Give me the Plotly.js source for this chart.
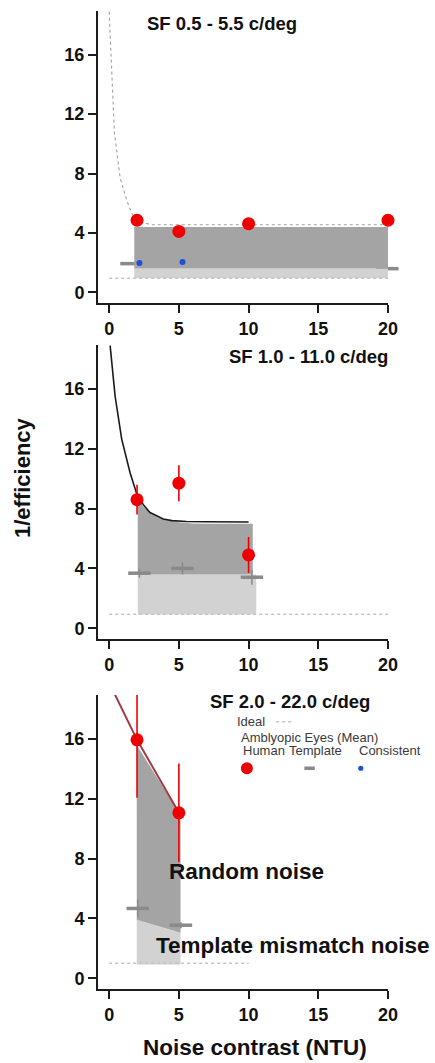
<!DOCTYPE html>
<html>
<head>
<meta charset="utf-8">
<script src="https://cdn.plot.ly/plotly-3.0.1.min.js"></script>
<style>html,body{margin:0;padding:0;background:#fff;}#chart{width:435px;height:1063px;}</style>
</head>
<body>
<div id="chart"></div>
<script>
// ---------- tick labels ----------
const xTickVals = [0, 5, 10, 15, 20];
const yTickVals = [0, 4, 8, 12, 16];
const panelTitles = ["SF 0.5 - 5.5 c/deg", "SF 1.0 - 11.0 c/deg", "SF 2.0 - 22.0 c/deg"];

// ---------- Panel 1 : SF 0.5 - 5.5 c/deg ----------
const p1IdealX = [0, 20];
const p1IdealY = [0.95, 0.95];
const p1BandX = [1.8, 20.1];
const p1BandIdeal = [0.95, 0.95];
const p1BandTemplate = [1.6, 1.6];
const p1BandMean = [4.4, 4.4];
const p1FitX = [0.0, 0.07, 0.19, 0.38, 0.79, 1.26, 1.62, 2.2, 3.0, 4.0, 20.1];
const p1FitY = [18.9, 17.4, 15.1, 10.7, 7.7, 6.2, 5.3, 4.76, 4.55, 4.55, 4.55];
const p1HumanX = [2, 5, 10, 20];
const p1HumanY = [4.85, 4.1, 4.62, 4.85];
const p1TemplateX = [1.6, 4.7, 9.95, 19.95];
const p1TemplateY = [1.93, 1.77, 2.78, 1.59];
const p1ConsistentX = [2.17, 5.26];
const p1ConsistentY = [1.97, 2.04];

// ---------- Panel 2 : SF 1.0 - 11.0 c/deg ----------
const p2IdealX = [0, 20];
const p2IdealY = [0.94, 0.94];
const p2LightX = [2.05, 10.55];
const p2LightLow = [0.92, 0.92];
const p2LightHigh = [3.6, 3.6];
const p2DarkX = [2.05, 2.5, 3.0, 3.5, 4.0, 4.5, 5.0, 6.0, 7.0, 10.3];
const p2DarkLow = [3.6, 3.6, 3.6, 3.6, 3.6, 3.6, 3.6, 3.6, 3.6, 3.6];
const p2DarkHigh = [8.6, 8.1, 7.65, 7.4, 7.25, 7.15, 7.08, 7.0, 6.98, 6.98];
const p2FitX = [0.07, 0.43, 0.9, 1.5, 2.02, 2.5, 2.93, 3.5, 3.88, 4.5, 5.55, 7, 10];
const p2FitY = [18.9, 15.5, 12.65, 10.4, 8.86, 8.2, 7.74, 7.45, 7.3, 7.2, 7.14, 7.12, 7.1];
const p2HumanX = [2, 5, 10];
const p2HumanY = [8.6, 9.7, 4.9];
const p2HumanErr = [1.0, 1.2, 1.2];
const p2TemplateX = [2.17, 5.26, 10.24];
const p2TemplateY = [3.68, 4.0, 3.41];
const p2TemplateErr = [0.3, 0.4, 0.5];

// ---------- Panel 3 : SF 2.0 - 22.0 c/deg ----------
const p3IdealX = [0, 10];
const p3IdealY = [1.0, 1.0];
const p3BandX = [1.98, 5.12];
const p3BandIdeal = [0.92, 0.92];
const p3BandTemplate = [3.92, 3.05];
const p3BandMean = [15.6, 10.9];
const p3FitX = [0.3, 2.0, 5.0];
const p3FitY = [19.2, 15.95, 11.07];
const p3HumanX = [2, 5];
const p3HumanY = [15.95, 11.07];
const p3HumanErr = [3.87, 3.3];
const p3TemplateX = [2.05, 5.15];
const p3TemplateY = [4.67, 3.55];
const p3TemplateErr = [0.6, 0.2];

// ---------- styles ----------
const RED = '#ee0000';
const BLUE = '#1e4fd6';
const TEMPLATE_GREY = '#8a8a8a';
const DARK_FILL = '#a4a4a4';
const LIGHT_FILL = '#d2d2d2';
const IDEAL_COL = '#c4c4c4';
const AXCOL = '#1c1c1c';
const FONT = 'Liberation Sans, Arial, sans-serif';

function ax(i) { return i === 1 ? {x: 'x', y: 'y'} : {x: 'x' + i, y: 'y' + i}; }

function band(xs, low, high, color, i) {
  const a = ax(i);
  return {type: 'scatter', mode: 'lines', x: xs.concat(xs.slice().reverse()),
    y: high.concat(low.slice().reverse()), fill: 'toself', fillcolor: color,
    line: {width: 0}, xaxis: a.x, yaxis: a.y, hoverinfo: 'skip', showlegend: false};
}
function line(xs, ys, color, width, dash, i) {
  const a = ax(i);
  return {type: 'scatter', mode: 'lines', x: xs, y: ys, line: {color: color, width: width, dash: dash},
    xaxis: a.x, yaxis: a.y, hoverinfo: 'skip', showlegend: false};
}
function templ(xs, ys, err, i) {
  const a = ax(i);
  const t = {type: 'scatter', mode: 'markers', x: xs, y: ys,
    marker: {symbol: 'line-ew', size: 16, line: {width: 3.5, color: TEMPLATE_GREY}},
    xaxis: a.x, yaxis: a.y, showlegend: false, cliponaxis: false};
  if (err) t.error_y = {type: 'data', array: err, visible: true, color: TEMPLATE_GREY, thickness: 1.5, width: 0};
  return t;
}
function human(xs, ys, i) {
  const a = ax(i);
  return {type: 'scatter', mode: 'markers', x: xs, y: ys,
    marker: {color: RED, size: 13, line: {width: 0}},
    xaxis: a.x, yaxis: a.y, showlegend: false, cliponaxis: false};
}
function humanErr(xs, ys, err, i) {
  const a = ax(i);
  return {type: 'scatter', mode: 'markers', x: xs, y: ys,
    marker: {color: 'rgba(0,0,0,0)', size: 1},
    error_y: {type: 'data', array: err, visible: true, color: RED, thickness: 1.6, width: 0},
    xaxis: a.x, yaxis: a.y, showlegend: false, cliponaxis: true, hoverinfo: 'skip'};
}
function consistent(xs, ys, i) {
  const a = ax(i);
  return {type: 'scatter', mode: 'markers', x: xs, y: ys,
    marker: {color: BLUE, size: 6}, xaxis: a.x, yaxis: a.y, showlegend: false};
}

const data = [
  // panel 1
  templ(p1TemplateX, p1TemplateY, null, 1),
  band(p1BandX, p1BandIdeal, p1BandTemplate, LIGHT_FILL, 1),
  band(p1BandX, p1BandTemplate, p1BandMean, DARK_FILL, 1),
  line(p1IdealX, p1IdealY, IDEAL_COL, 1.5, 'dot', 1),
  line(p1FitX, p1FitY, '#a0a0a0', 1.1, 'dot', 1),
  consistent(p1ConsistentX, p1ConsistentY, 1),
  human(p1HumanX, p1HumanY, 1),
  // panel 2
  band(p2LightX, p2LightLow, p2LightHigh, LIGHT_FILL, 2),
  band(p2DarkX, p2DarkLow, p2DarkHigh, DARK_FILL, 2),
  line(p2IdealX, p2IdealY, IDEAL_COL, 1.5, 'dot', 2),
  line(p2FitX, p2FitY, '#1a1a1a', 1.6, 'solid', 2),
  templ(p2TemplateX, p2TemplateY, p2TemplateErr, 2),
  humanErr(p2HumanX, p2HumanY, p2HumanErr, 2),
  human(p2HumanX, p2HumanY, 2),
  // panel 3
  band(p3BandX, p3BandIdeal, p3BandTemplate, LIGHT_FILL, 3),
  band(p3BandX, p3BandTemplate, p3BandMean, DARK_FILL, 3),
  line(p3IdealX, p3IdealY, IDEAL_COL, 1.5, 'dot', 3),
  line(p3FitX, p3FitY, '#a23a44', 2, 'solid', 3),
  templ(p3TemplateX, p3TemplateY, p3TemplateErr, 3),
  humanErr(p3HumanX, p3HumanY, p3HumanErr, 3),
  human(p3HumanX, p3HumanY, 3)
];

const tickFont = {family: FONT, size: 18, color: '#111', weight: 'bold'};
function xAxis(anchor) {
  return {anchor: anchor, domain: [0, 1], range: [-0.8, 20], tickvals: xTickVals, ticktext: xTickVals.map(String),
    showline: true, linewidth: 2, linecolor: AXCOL, ticks: 'outside', ticklen: 8, tickwidth: 2, tickcolor: AXCOL,
    showgrid: false, zeroline: false, tickfont: tickFont, fixedrange: true};
}
function yAxis(anchor, dom) {
  return {anchor: anchor, domain: dom, range: [-0.72, 18.95], tickvals: yTickVals, ticktext: yTickVals.map(String),
    showline: true, linewidth: 2, linecolor: AXCOL, ticks: 'outside', ticklen: 8, tickwidth: 2, tickcolor: AXCOL,
    showgrid: false, zeroline: false, tickfont: tickFont, fixedrange: true};
}

const titleFont = {family: FONT, size: 18.5, color: '#111', weight: 'bold'};
const legFont = {family: FONT, size: 13, color: '#3a3a3a'};
const bigFont = {family: FONT, size: 22.5, color: '#111', weight: 'bold'};

const annotations = [
  {xref: 'x', yref: 'y', x: 8.1, y: 18.1, text: panelTitles[0], showarrow: false, font: titleFont, xanchor: 'center', yanchor: 'middle'},
  {xref: 'x2', yref: 'y2', x: 14.3, y: 18.2, text: panelTitles[1], showarrow: false, font: titleFont, xanchor: 'center', yanchor: 'middle'},
  {xref: 'x3', yref: 'y3', x: 12.95, y: 18.5, text: panelTitles[2], showarrow: false, font: titleFont, xanchor: 'center', yanchor: 'middle'},
  // legend texts
  {xref: 'x3', yref: 'y3', x: 9.05, y: 17.16, text: 'Ideal', showarrow: false, font: legFont, xanchor: 'left', yanchor: 'middle'},
  {xref: 'x3', yref: 'y3', x: 9.3, y: 16.11, text: 'Amblyopic Eyes (Mean)', showarrow: false, font: legFont, xanchor: 'left', yanchor: 'middle'},
  {xref: 'x3', yref: 'y3', x: 9.45, y: 15.21, text: 'Human', showarrow: false, font: legFont, xanchor: 'left', yanchor: 'middle'},
  {xref: 'x3', yref: 'y3', x: 12.75, y: 15.21, text: 'Template', showarrow: false, font: legFont, xanchor: 'left', yanchor: 'middle'},
  {xref: 'x3', yref: 'y3', x: 17.75, y: 15.21, text: 'Consistent', showarrow: false, font: legFont, xanchor: 'left', yanchor: 'middle'},
  // region labels
  {xref: 'x3', yref: 'y3', x: 9.84, y: 7.15, text: 'Random noise', showarrow: false, font: bigFont, xanchor: 'center', yanchor: 'middle'},
  {xref: 'x3', yref: 'y3', x: 13.14, y: 2.22, text: 'Template mismatch noise', showarrow: false, font: bigFont, xanchor: 'center', yanchor: 'middle'},
  // axis titles
  {xref: 'paper', yref: 'paper', x: (22 - 98) / 290, y: 1 - 478 / 1063, text: '1/efficiency', textangle: -90, showarrow: false,
    font: {family: FONT, size: 22, color: '#111', weight: 'bold'}, xanchor: 'center', yanchor: 'middle'},
  {xref: 'paper', yref: 'paper', x: (255 - 98) / 290, y: 1 - 1047 / 1063, text: 'Noise contrast (NTU)', showarrow: false,
    font: {family: FONT, size: 22.5, color: '#111', weight: 'bold'}, xanchor: 'center', yanchor: 'middle'}
];

const shapes = [
  // legend glyphs (panel 3)
  {type: 'line', xref: 'x3', yref: 'y3', x0: 11.98, x1: 13.16, y0: 17.16, y1: 17.16, line: {color: IDEAL_COL, width: 1.5, dash: 'dot'}},
  {type: 'circle', xref: 'x3', yref: 'y3', xsizemode: 'pixel', ysizemode: 'pixel', xanchor: 9.88, yanchor: 14.05,
    x0: -6, x1: 6, y0: -6, y1: 6, fillcolor: RED, line: {width: 0}},
  {type: 'line', xref: 'x3', yref: 'y3', x0: 14.0, x1: 14.75, y0: 14.05, y1: 14.05, line: {color: TEMPLATE_GREY, width: 3.5}},
  {type: 'circle', xref: 'x3', yref: 'y3', xsizemode: 'pixel', ysizemode: 'pixel', xanchor: 18.05, yanchor: 14.05,
    x0: -2.6, x1: 2.6, y0: -2.6, y1: 2.6, fillcolor: BLUE, line: {width: 0}}
];

const layout = {
  width: 435, height: 1063,
  margin: {l: 98, r: 47, t: 0, b: 0},
  paper_bgcolor: '#fff', plot_bgcolor: '#fff',
  showlegend: false,
  font: {family: FONT},
  xaxis: xAxis('y'), xaxis2: xAxis('y2'), xaxis3: xAxis('y3'),
  yaxis: yAxis('x', [0.7150, 0.9897]),
  yaxis2: yAxis('x2', [0.3989, 0.6755]),
  yaxis3: yAxis('x3', [0.0696, 0.3462]),
  annotations: annotations,
  shapes: shapes
};

Plotly.newPlot('chart', data, layout, {displayModeBar: false, staticPlot: true});
</script>
</body>
</html>
